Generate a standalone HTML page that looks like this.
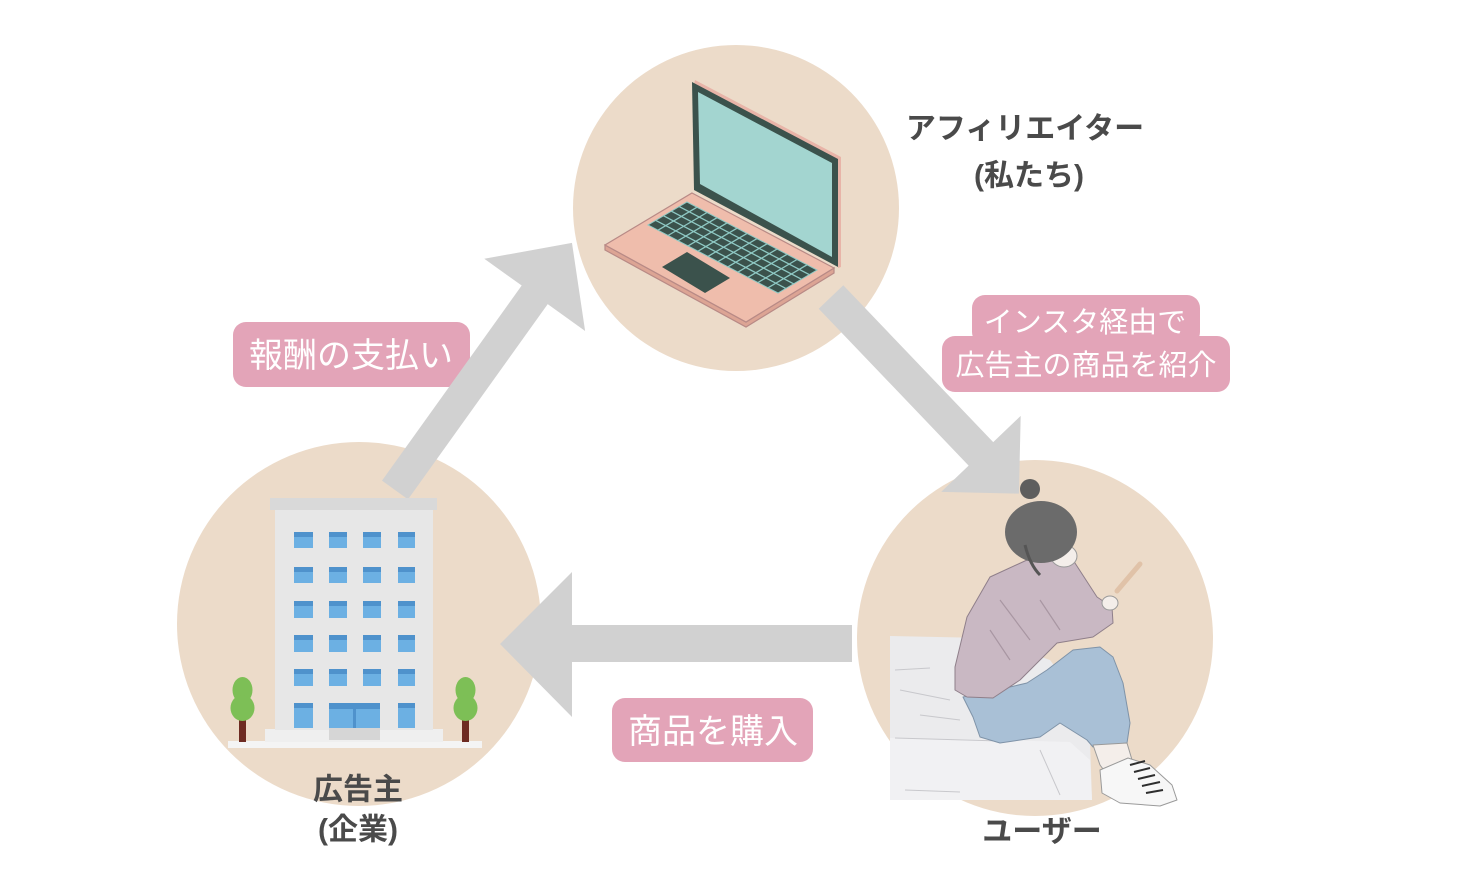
<!DOCTYPE html>
<html><head><meta charset="utf-8"><style>
html,body{margin:0;padding:0;background:#fff;}
svg{display:block;}
text{font-family:"Liberation Sans","Noto Sans CJK JP",sans-serif;}
</style></head><body>
<svg width="1484" height="888" viewBox="0 0 1484 888" xmlns="http://www.w3.org/2000/svg">
<rect width="1484" height="888" fill="#ffffff"/>
<!-- circles -->
<circle cx="736" cy="208" r="163" fill="#ecdbc9"/>
<circle cx="359" cy="624" r="182" fill="#ecdbc9"/>
<circle cx="1035" cy="638" r="178" fill="#ecdbc9"/>

<!-- label boxes -->
<rect x="233" y="322" width="237" height="65" rx="13" fill="#e3a4b8"/>
<rect x="972" y="295" width="228" height="50" rx="13" fill="#e3a4b8"/>
<rect x="942" y="336" width="288" height="56" rx="13" fill="#e3a4b8"/>
<rect x="612" y="698" width="201" height="64" rx="13" fill="#e3a4b8"/>

<!-- arrows -->
<g fill="#d1d1d1">
  <g transform="translate(395,490) rotate(-54.4)">
    <polygon points="0,-16 240,-16 240,-62 304,0 240,62 240,16 0,16"/>
  </g>
  <g transform="translate(831,297) rotate(46.3)">
    <polygon points="0,-17 217,-17 217,-55 272,0 217,55 217,17 0,17"/>
  </g>
  <polygon points="852,625 572,625 572,572 500,644 572,717 572,662 852,662"/>
</g>

<!-- laptop -->
<g>
  <polygon points="605,250 746,327 834,273 834,268 746,322 605,245" fill="#dca494" stroke="#b88a86" stroke-width="1.2"/>
  <polygon points="692,193 834,268 746,322 605,245" fill="#efbdac" stroke="#b88a86" stroke-width="1.2"/>
  <polygon points="695,80 841,157 841,267 838,268 838,160 694,84" fill="#e8b4a8"/>
  <polygon points="692,82 838,159 838,267 694,190" fill="#3b524c"/>
  <polygon points="698,92 832,163 832,257 700,184" fill="#a3d5d0"/>
  <polygon points="687,202 817,270 778,293 648,225" fill="#3b524c" stroke="#8fc9c4" stroke-width="1"/>
  <g stroke="#8fc9c4" stroke-width="1.3">
    <line x1="679.2" y1="206.6" x2="809.2" y2="274.6"/>
    <line x1="671.4" y1="211.2" x2="801.4" y2="279.2"/>
    <line x1="663.6" y1="215.8" x2="793.6" y2="283.8"/>
    <line x1="655.8" y1="220.4" x2="785.8" y2="288.4"/>
    <line x1="697" y1="207.2" x2="658" y2="230.2"/>
    <line x1="707" y1="212.5" x2="668" y2="235.5"/>
    <line x1="717" y1="217.7" x2="678" y2="240.7"/>
    <line x1="727" y1="222.9" x2="688" y2="245.9"/>
    <line x1="737" y1="228.2" x2="698" y2="251.2"/>
    <line x1="747" y1="233.4" x2="708" y2="256.4"/>
    <line x1="757" y1="238.6" x2="718" y2="261.6"/>
    <line x1="767" y1="243.8" x2="728" y2="266.8"/>
    <line x1="777" y1="249.1" x2="738" y2="272.1"/>
    <line x1="787" y1="254.3" x2="748" y2="277.3"/>
    <line x1="797" y1="259.5" x2="758" y2="282.5"/>
    <line x1="807" y1="264.8" x2="768" y2="287.8"/>
  </g>
  <polygon points="687,252 730,278 705,293 662,267" fill="#3b524c"/>
</g>

<!-- building -->
<g>
  <rect x="228" y="741" width="254" height="7" fill="#f4f4f4"/>
  <rect x="265" y="729" width="178" height="13" fill="#efefef"/>
  <rect x="275" y="509" width="158" height="221" fill="#e7e7e7"/>
  <rect x="270" y="498" width="167" height="12" fill="#d9d9d9"/>
  <g fill="#6cb0e3">
    <rect x="294" y="532" width="19" height="16"/><rect x="329" y="532" width="18" height="16"/><rect x="363" y="532" width="18" height="16"/><rect x="398" y="532" width="17" height="16"/>
    <rect x="294" y="567" width="19" height="16"/><rect x="329" y="567" width="18" height="16"/><rect x="363" y="567" width="18" height="16"/><rect x="398" y="567" width="17" height="16"/>
    <rect x="294" y="601" width="19" height="17"/><rect x="329" y="601" width="18" height="17"/><rect x="363" y="601" width="18" height="17"/><rect x="398" y="601" width="17" height="17"/>
    <rect x="294" y="635" width="19" height="17"/><rect x="329" y="635" width="18" height="17"/><rect x="363" y="635" width="18" height="17"/><rect x="398" y="635" width="17" height="17"/>
    <rect x="294" y="669" width="19" height="17"/><rect x="329" y="669" width="18" height="17"/><rect x="363" y="669" width="18" height="17"/><rect x="398" y="669" width="17" height="17"/>
    <rect x="294" y="703" width="19" height="25"/><rect x="329" y="703" width="51" height="25"/><rect x="398" y="703" width="17" height="25"/>
  </g>
  <g fill="#4f92cc">
    <rect x="294" y="532" width="19" height="5"/><rect x="329" y="532" width="18" height="5"/><rect x="363" y="532" width="18" height="5"/><rect x="398" y="532" width="17" height="5"/>
    <rect x="294" y="567" width="19" height="5"/><rect x="329" y="567" width="18" height="5"/><rect x="363" y="567" width="18" height="5"/><rect x="398" y="567" width="17" height="5"/>
    <rect x="294" y="601" width="19" height="5"/><rect x="329" y="601" width="18" height="5"/><rect x="363" y="601" width="18" height="5"/><rect x="398" y="601" width="17" height="5"/>
    <rect x="294" y="635" width="19" height="5"/><rect x="329" y="635" width="18" height="5"/><rect x="363" y="635" width="18" height="5"/><rect x="398" y="635" width="17" height="5"/>
    <rect x="294" y="669" width="19" height="5"/><rect x="329" y="669" width="18" height="5"/><rect x="363" y="669" width="18" height="5"/><rect x="398" y="669" width="17" height="5"/>
    <rect x="294" y="703" width="19" height="5"/><rect x="329" y="703" width="51" height="6"/><rect x="398" y="703" width="17" height="5"/>
    <rect x="353" y="709" width="3" height="19"/>
  </g>
  <rect x="329" y="728" width="51" height="12" fill="#d6d6d6"/>
  <!-- trees -->
  <rect x="239" y="716" width="7" height="26" fill="#6e2b22"/>
  <ellipse cx="242.5" cy="690" rx="10" ry="13" fill="#7dbf56"/>
  <ellipse cx="242.5" cy="708" rx="12" ry="13" fill="#7dbf56"/>
  <rect x="462" y="716" width="7" height="26" fill="#6e2b22"/>
  <ellipse cx="465.5" cy="690" rx="10" ry="13" fill="#7dbf56"/>
  <ellipse cx="465.5" cy="708" rx="12" ry="13" fill="#7dbf56"/>
</g>

<!-- girl on bed -->
<g stroke-linejoin="round">
  <path d="M890,636 L985,638 L1050,660 L1080,700 L1090,740 L1092,800 L890,800 Z" fill="#ebebed"/>
  <path d="M890,738 L1000,740 L1070,742 L1090,760 L1092,800 L890,800 Z" fill="#f1f1f3"/>
  <g stroke="#c8c8cc" stroke-width="1" fill="none">
    <path d="M895,670 L930,668"/><path d="M900,690 L950,700"/><path d="M920,715 L960,720"/><path d="M895,738 L1000,741"/><path d="M905,790 L960,792"/><path d="M1040,750 L1060,795"/>
  </g>
  <!-- jeans -->
  <polygon points="963,697 973,717 980,737 1000,743 1040,737 1060,723 1087,740 1093,747 1127,743 1130,723 1123,683 1113,657 1100,647 1073,650 1047,670 1027,683 997,690" fill="#a9c0d6" stroke="#7f93a8" stroke-width="1"/>
  <!-- shins -->
  <polygon points="1093,745 1127,743 1135,770 1115,785 1100,765" fill="#f4eeea" stroke="#9a9a9a" stroke-width="1"/>
  <!-- shoe -->
  <path d="M1100,770 L1128,758 L1150,765 L1172,785 L1177,800 L1160,806 L1120,803 L1102,793 Z" fill="#f7f7f7" stroke="#9a9a9a" stroke-width="1"/>
  <g stroke="#2e2e2e" stroke-width="2">
    <line x1="1130" y1="765" x2="1145" y2="761"/><line x1="1134" y1="772" x2="1150" y2="768"/><line x1="1138" y1="779" x2="1155" y2="775"/><line x1="1142" y1="786" x2="1160" y2="782"/><line x1="1146" y1="793" x2="1163" y2="790"/>
  </g>
  <!-- sweater -->
  <polygon points="1027,560 990,577 967,617 955,667 955,690 967,697 993,698 1020,680 1057,643 1093,637 1113,623 1112,607 1097,597 1073,560 1053,560" fill="#c9b8c3" stroke="#8f7f8a" stroke-width="1"/>
  <g stroke="#a896a2" stroke-width="1.2" fill="none">
    <path d="M990,630 L1010,660"/><path d="M1000,600 L1030,640"/><path d="M1040,600 L1060,630"/>
  </g>
  <!-- phone & hand -->
  <line x1="1117" y1="591" x2="1140" y2="564" stroke="#e0c2a8" stroke-width="5" stroke-linecap="round"/>
  <ellipse cx="1110" cy="603" rx="8" ry="7" fill="#f4eeea" stroke="#9a9a9a" stroke-width="1"/>
  <ellipse cx="1064" cy="556" rx="13" ry="11" fill="#f4eeea" stroke="#9a9a9a" stroke-width="1"/>
  <!-- hair -->
  <ellipse cx="1041" cy="532" rx="36" ry="31" fill="#6b6b6b"/>
  <circle cx="1030" cy="489" r="10" fill="#5e5e5e"/>
  <path d="M1025,545 Q1030,565 1040,575" stroke="#555" stroke-width="3" fill="none"/>
</g>

<!-- label text -->
<g fill="#ffffff" font-size="34" text-anchor="middle" dominant-baseline="central">
  <text x="351" y="356">報酬の支払い</text>
  <text x="713" y="732">商品を購入</text>
  <text x="1085" y="323" font-size="29">インスタ経由で</text>
  <text x="1086" y="366" font-size="29">広告主の商品を紹介</text>
</g>

<!-- node captions -->
<g fill="#4a4a4a" font-size="30" font-weight="bold" text-anchor="middle" dominant-baseline="central">
  <text x="1025" y="129">アフィリエイター</text>
  <text x="1029" y="176">(私たち)</text>
  <text x="358" y="790">広告主</text>
  <text x="358" y="830">(企業)</text>
  <text x="1042" y="832">ユーザー</text>
</g>
</svg>
</body></html>
